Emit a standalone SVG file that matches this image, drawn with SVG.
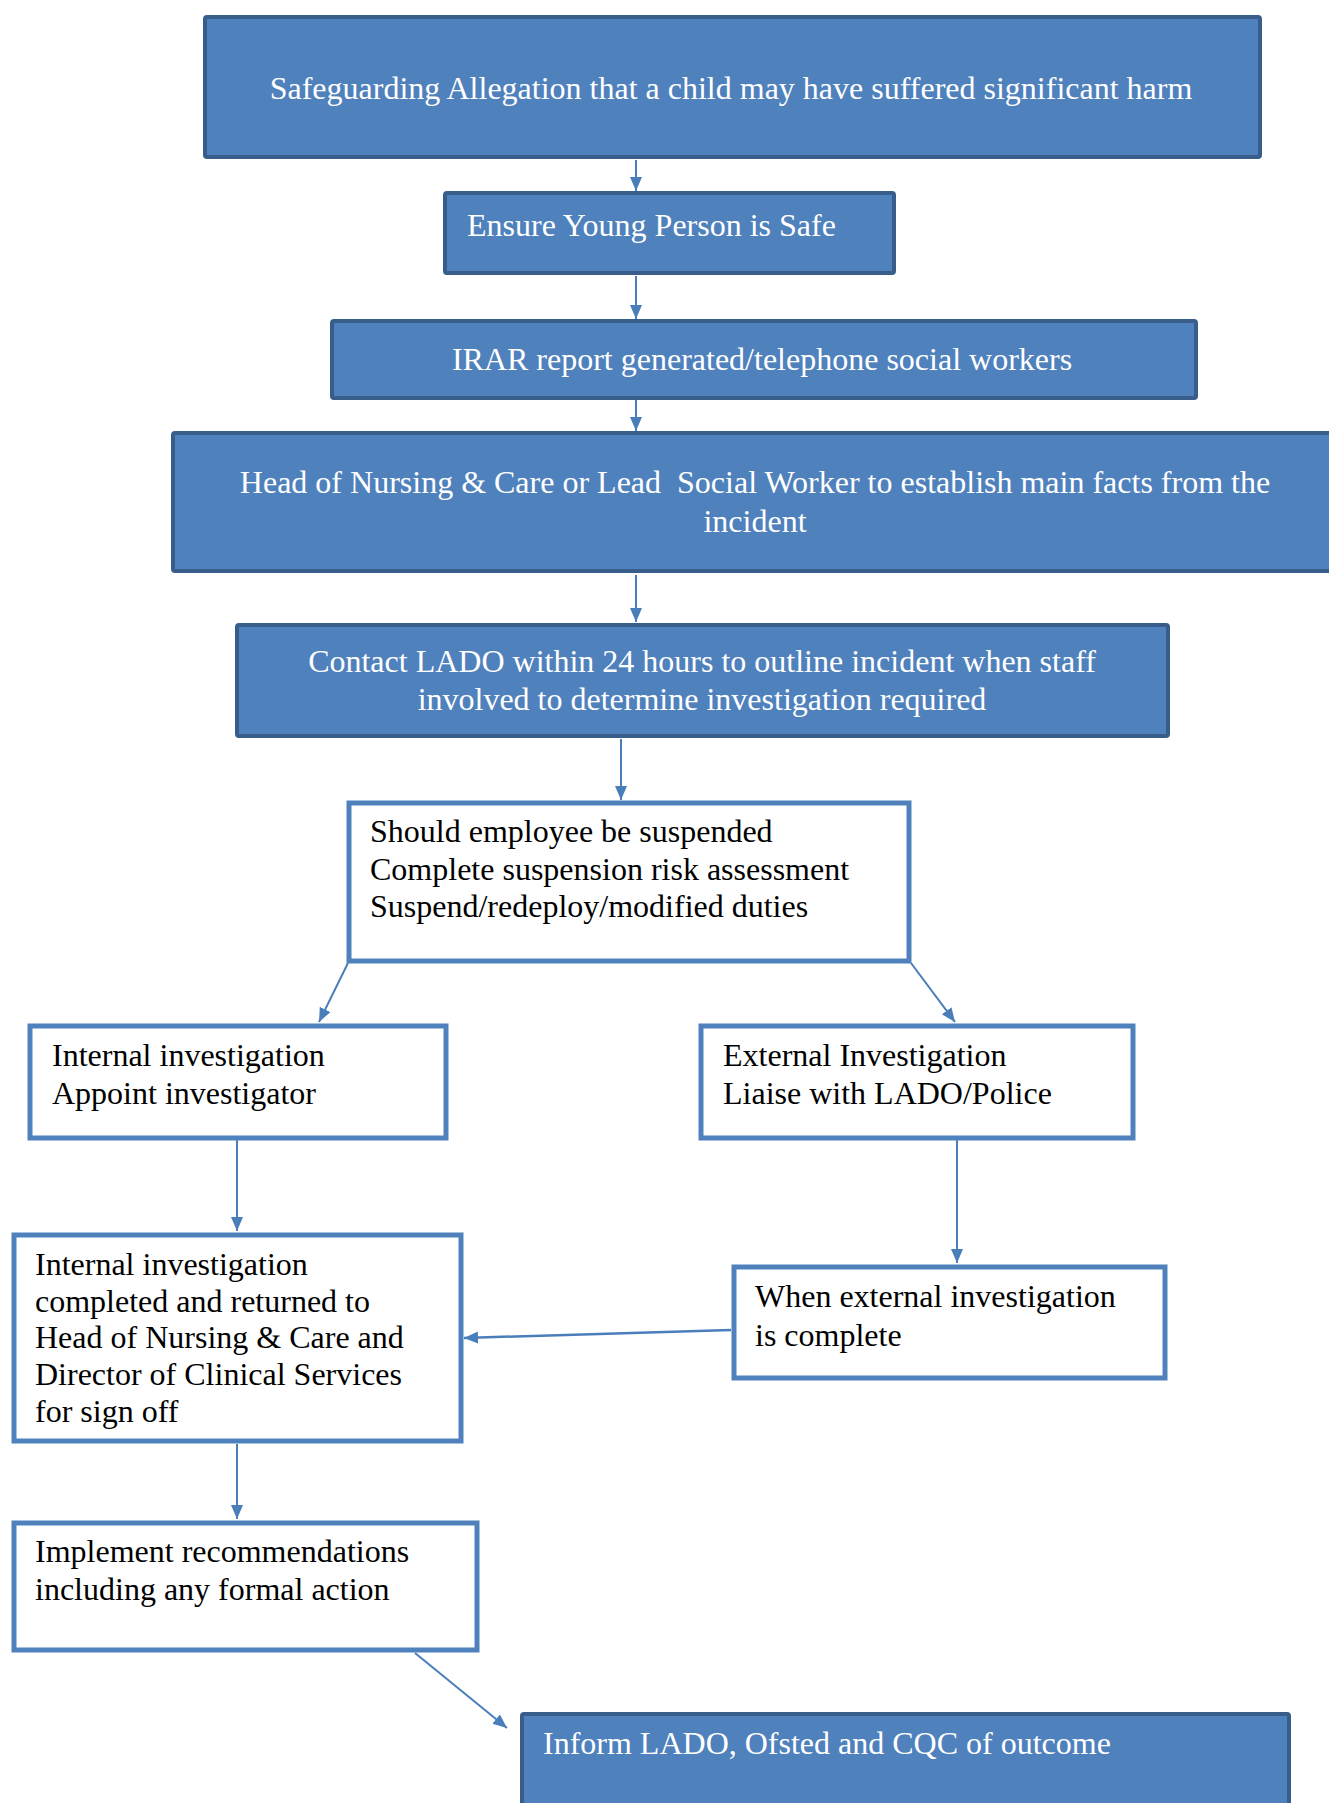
<svg xmlns="http://www.w3.org/2000/svg" width="1329" height="1803" viewBox="0 0 1329 1803">
<defs>
<style>
.bb{fill:#4F81BD;stroke:#385D8A;stroke-width:4}
.wb{fill:#FFFFFF;stroke:#4F81BD;stroke-width:5}
.wt{font-family:"Liberation Serif","Times New Roman",serif;font-size:32px;fill:#FFFFFF}
.kt{font-family:"Liberation Serif","Times New Roman",serif;font-size:32px;fill:#000000}
.cn{stroke:#4A7EBB;stroke-width:2;fill:none;marker-end:url(#ah)}
</style>
<marker id="ah" markerUnits="userSpaceOnUse" markerWidth="15" markerHeight="15" viewBox="0 0 15 15" refX="14" refY="7.5" orient="auto">
<path d="M0,1.5 L14,7.5 L0,13.5 Z" fill="#4A7EBB"/>
</marker>
</defs>
<rect width="1329" height="1803" fill="#FFFFFF"/>

<g id="connectors">
<line class="cn" x1="636" y1="160" x2="636" y2="191"/>
<line class="cn" x1="636" y1="276" x2="636" y2="319"/>
<line class="cn" x1="636" y1="400" x2="636" y2="431"/>
<line class="cn" x1="636" y1="575" x2="636" y2="622"/>
<line class="cn" x1="621" y1="739" x2="621" y2="800"/>
<line class="cn" x1="348" y1="963" x2="319" y2="1022"/>
<line class="cn" x1="911" y1="963" x2="955" y2="1022"/>
<line class="cn" x1="237" y1="1140" x2="237" y2="1231"/>
<line class="cn" x1="957" y1="1140" x2="957" y2="1263"/>
<line class="cn" x1="731" y1="1330" x2="464" y2="1338" style="stroke-width:2.5"/>
<line class="cn" x1="237" y1="1444" x2="237" y2="1519"/>
<line class="cn" x1="415" y1="1653" x2="507" y2="1728"/>
</g>

<g id="n1">
<rect class="bb" x="205" y="17" width="1055" height="140" rx="2"/>
<text class="wt" x="731" y="99" text-anchor="middle">Safeguarding Allegation that a child may have suffered significant harm</text>
</g>

<g id="n2">
<rect class="bb" x="445" y="193" width="449" height="80" rx="2"/>
<text class="wt" x="467" y="236">Ensure Young Person is Safe</text>
</g>

<g id="n3">
<rect class="bb" x="332" y="321" width="864" height="77" rx="2"/>
<text class="wt" x="762" y="370" text-anchor="middle">IRAR report generated/telephone social workers</text>
</g>

<g id="n4">
<rect class="bb" x="173" y="433" width="1170" height="138" rx="2"/>
<text class="wt" x="755" y="493" text-anchor="middle" xml:space="preserve">Head of Nursing &amp; Care or Lead  Social Worker to establish main facts from the</text>
<text class="wt" x="755" y="532" text-anchor="middle">incident</text>
</g>

<g id="n5">
<rect class="bb" x="237" y="625" width="931" height="111" rx="2"/>
<text class="wt" x="702" y="672" text-anchor="middle">Contact LADO within 24 hours to outline incident when staff</text>
<text class="wt" x="702" y="710" text-anchor="middle">involved to determine investigation required</text>
</g>

<g id="n6">
<rect class="wb" x="349" y="803" width="560" height="158"/>
<text class="kt" x="370" y="842">Should employee be suspended</text>
<text class="kt" x="370" y="880">Complete suspension risk assessment</text>
<text class="kt" x="370" y="917">Suspend/redeploy/modified duties</text>
</g>

<g id="n7">
<rect class="wb" x="30" y="1026" width="416" height="112"/>
<text class="kt" x="52" y="1066">Internal investigation</text>
<text class="kt" x="52" y="1104">Appoint investigator</text>
</g>

<g id="n8">
<rect class="wb" x="701" y="1026" width="432" height="112"/>
<text class="kt" x="723" y="1066">External Investigation</text>
<text class="kt" x="723" y="1104">Liaise with LADO/Police</text>
</g>

<g id="n9">
<rect class="wb" x="14" y="1235" width="447" height="206"/>
<text class="kt" x="35" y="1275">Internal investigation</text>
<text class="kt" x="35" y="1312">completed and returned to</text>
<text class="kt" x="35" y="1348">Head of Nursing &amp; Care and</text>
<text class="kt" x="35" y="1385">Director of Clinical Services</text>
<text class="kt" x="35" y="1422">for sign off</text>
</g>

<g id="n10">
<rect class="wb" x="734" y="1267" width="431" height="111"/>
<text class="kt" x="755" y="1307">When external investigation</text>
<text class="kt" x="755" y="1346">is complete</text>
</g>

<g id="n11">
<rect class="wb" x="14" y="1523" width="463" height="127"/>
<text class="kt" x="35" y="1562">Implement recommendations</text>
<text class="kt" x="35" y="1600">including any formal action</text>
</g>

<g id="n12">
<rect class="bb" x="522" y="1714" width="767" height="110" rx="2"/>
<text class="wt" x="543" y="1754">Inform LADO, Ofsted and CQC of outcome</text>
</g>
</svg>
